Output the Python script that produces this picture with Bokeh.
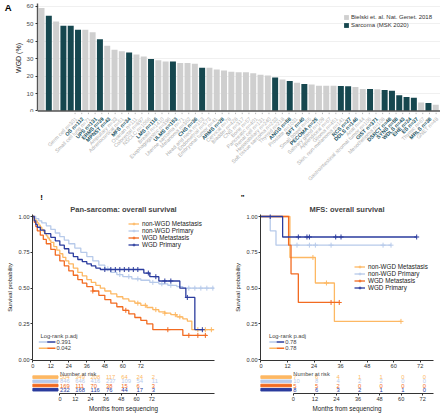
import numpy as np
from math import pi
from bokeh.plotting import figure
from bokeh.models import (ColumnDataSource, Range1d, Label, Legend, LegendItem,
                          NumeralTickFormatter, LinearAxis, FixedTicker, Span)
from bokeh.layouts import column, row
from bokeh.embed import file_html
from bokeh.resources import INLINE
from bokeh.core.properties import value

FONT = "Liberation Sans"

# ---------------- Panel A data ----------------
tumor_labels = [
    "Germ cell n=301", "OS n=112", "Small cell lung n=71", "UPS n=131", "ERMS n=39",
    "MPNST n=43", "Ampullary n=33", "Adrenocortical n=51", "MFS n=34", "Ovarian n=111",
    "Colorectal n=897", "NSCLC n=1066", "LMS n=116", "Breast n=1410", "Esophagogastric n=396",
    "ULMS n=153", "Uterine sarcoma n=71", "Melanoma n=362", "CHS n=36", "Head and neck n=153",
    "Endometrial n=573", "Embryonal tumor n=41", "ARMS n=28", "Cervical n=78", "Bladder n=428",
    "CNS n=317", "Bone n=57", "Pancreatic n=401", "Renal cell n=131", "Hepatobiliary n=240",
    "Soft tissue sarcoma n=233", "Thyroid n=218", "ANGS n=58", "Prostate n=1031", "SFT n=40",
    "Small bowel n=55", "PECOMA n=25", "Salivary gland n=109", "Appendiceal n=67", "Glioma n=451",
    "Skin, non-melanoma n=141", "RCS n=27", "DDLS n=146", "Anal n=44",
    "Gastrointestinal stromal tumor n=106", "GIST n=371", "Mesothelioma n=108", "DSRCT n=48",
    "SYNS n=58", "WDLS n=43", "EHE n=24", "ES n=37", "Thymic n=67", "MRLS n=38", "GNET n=48",
]
wgd_percent = [
    58.9, 54.5, 51.2, 48.8, 48.8, 46.5, 46.5, 45.1, 41.1, 37.3,
    35.0, 34.2, 33.4, 32.3, 31.2, 29.8, 29.0, 28.3, 28.3, 27.5,
    27.5, 27.0, 24.7, 24.7, 23.7, 23.1, 22.4, 22.2, 22.1, 21.6,
    20.8, 20.3, 19.1, 18.0, 17.2, 16.2, 15.5, 15.1, 14.5, 14.5,
    14.5, 14.3, 14.1, 13.8, 12.6, 12.6, 12.4, 12.0, 11.6, 9.0,
    8.0, 7.6, 4.9, 4.6, 3.6,
]
cohort = list("BSBSSSBBSBBBSBBSBBSBBBSBBBBBBBBBSBSBSBBBBSSBBSBSSSSSBSB")
cohort_names = {"B": "Bielski et. al. Nat. Genet. 2018", "S": "Sarcoma (MSK 2020)"}
bar_colors = {"B": "#CFCFCF", "S": "#16474F"}
text_colors = {"B": "#ADADAD", "S": "#1D5564"}
wgd_ticks = [0, 10, 20, 30, 40, 50, 60]
panel_tags = ["!", "\""]

# ---------------- Survival data ----------------
groups = ["non-WGD Metastasis", "non-WGD Primary", "WGD Metastasis", "WGD Primary"]
group_colors = ["#FDB863", "#B7CAEA", "#F26B21", "#2B3C9E"]
month_ticks = [0, 12, 24, 36, 48, 60, 72]

# Pan-sarcoma
pan_times = [
    [0, 1, 2, 3, 4, 5, 6, 7, 8, 9, 10, 11, 12, 14, 16, 18, 20, 22, 24, 27, 30, 33, 36, 39,
     42, 45, 48, 52, 56, 60, 64, 68, 72, 76, 80, 84, 88, 92, 96, 100, 103, 106],
    [0, 2, 4, 6, 9, 12, 15, 18, 21, 24, 28, 32, 36, 40, 44, 48, 52, 56, 60, 66, 72, 78, 84,
     90, 96, 100],
    [0, 1, 2, 3, 5, 7, 9, 12, 15, 18, 21, 24, 27, 30, 33, 36, 40, 44, 48, 52, 56, 60, 64, 68,
     72, 76, 80, 100],
    [0, 1, 2, 3, 5, 8, 12, 15, 18, 21, 24, 27, 30, 33, 36, 39, 42, 45, 74, 78, 84, 98, 102, 108],
]
pan_surv = [
    [1.0, 0.985, 0.97, 0.955, 0.94, 0.925, 0.91, 0.895, 0.88, 0.865, 0.85, 0.835, 0.82, 0.79,
     0.765, 0.74, 0.715, 0.69, 0.67, 0.64, 0.61, 0.585, 0.56, 0.54, 0.52, 0.50, 0.48, 0.46,
     0.44, 0.425, 0.41, 0.395, 0.38, 0.365, 0.35, 0.335, 0.325, 0.315, 0.30, 0.285, 0.27, 0.21],
    [1.0, 0.985, 0.97, 0.955, 0.935, 0.91, 0.885, 0.86, 0.835, 0.81, 0.78, 0.75, 0.72, 0.69,
     0.66, 0.635, 0.61, 0.595, 0.58, 0.565, 0.555, 0.54, 0.53, 0.52, 0.51, 0.50],
    [1.0, 0.96, 0.93, 0.90, 0.87, 0.84, 0.81, 0.77, 0.73, 0.69, 0.655, 0.62, 0.59, 0.56, 0.535,
     0.51, 0.48, 0.45, 0.42, 0.395, 0.37, 0.345, 0.32, 0.295, 0.275, 0.25, 0.21, 0.17],
    [1.0, 0.97, 0.945, 0.925, 0.905, 0.88, 0.855, 0.83, 0.80, 0.775, 0.745, 0.72, 0.70, 0.685,
     0.67, 0.655, 0.64, 0.63, 0.605, 0.58, 0.55, 0.50, 0.435, 0.21],
]
pan_end = [121, 121, 116, 113.5]
pan_censor = [
    [70, 75, 82, 88, 95, 98, 110, 115, 119],
    [50, 58, 64, 70, 80, 86, 92, 104, 108, 112, 116, 120],
    [40, 62, 90, 104, 110, 115],
    [48, 52, 55, 58, 61, 64, 67, 70, 77, 82, 88, 92, 103, 113],
]
pan_risk = [
    [504, 349, 208, 117, 64, 24, 2],
    [846, 646, 416, 237, 109, 54, 11],
    [169, 111, 70, 38, 15, 6, 3],
    [232, 168, 116, 76, 44, 17, 3],
]
pan_pvals = ["0.391", "0.042"]

# MFS
mfs_times = [[0, 13.1, 24.6, 33.2], [0, 4.2, 6.8], [0, 12.5, 13.6, 16.9], [0, 9.8]]
mfs_surv = [[1.0, 0.714, 0.536, 0.268], [1.0, 0.9, 0.8], [1.0, 0.8, 0.6, 0.4], [1.0, 0.857]]
mfs_end = [63.3, 58.8, 35.4, 70.4]
mfs_censor = [
    [23.5, 29.6, 63.3],
    [16.3, 21.9, 24.6, 31.7, 55.2, 58.8],
    [31.7, 35.4],
    [4.2, 16.9, 20.8, 21.9, 33.8, 36.2, 70.4],
]
mfs_risk = [
    [7, 6, 4, 1, 1, 0, 0],
    [10, 8, 4, 2, 2, 0, 0],
    [5, 5, 2, 0, 0, 0, 0],
    [8, 6, 3, 2, 1, 1, 0],
]
mfs_pvals = ["0.78", "0.78"]

AX = "#333333"


def style_axis(ax, size="5.6px"):
    ax.axis_line_color = AX
    ax.axis_line_width = 1
    ax.major_tick_line_color = AX
    ax.major_tick_in = 0
    ax.major_tick_out = 2
    ax.minor_tick_line_color = None
    ax.minor_tick_out = 0
    ax.minor_tick_in = 0
    ax.major_label_text_font = FONT
    ax.major_label_text_font_size = size
    ax.major_label_text_color = "#333333"
    ax.major_label_standoff = 1
    ax.axis_label_text_font = FONT
    ax.axis_label_text_font_style = "normal"
    ax.axis_label_text_color = "#222222"


# ---------------- Panel A: bars ----------------
idx = list(range(1, len(wgd_percent) + 1))
xA0, xA1 = 0.45, 55.65
A_W, A_BARS_H, A_LAB_H, A_LEFT = 440, 112, 90, 37
pA = figure(width=A_W, height=A_BARS_H, x_range=Range1d(xA0, xA1),
            y_range=Range1d(-0.86, 61.5), output_backend="svg", toolbar_location=None,
            x_axis_location=None, min_border_left=A_LEFT, min_border_right=0,
            min_border_top=3, min_border_bottom=0)
pA.outline_line_color = None
pA.xgrid.grid_line_color = None
pA.ygrid.grid_line_color = "#E6E6E6"
pA.ygrid.grid_line_width = 0.6
pA.ygrid.ticker = wgd_ticks

legend_items_A = []
for key in ["B", "S"]:
    sel = [i for i, c in enumerate(cohort) if c == key]
    src = ColumnDataSource(dict(x=[idx[i] for i in sel], top=[wgd_percent[i] for i in sel]))
    r = pA.vbar(x="x", top="top", width=0.82, source=src, fill_color=bar_colors[key],
                line_color=None)
    legend_items_A.append(LegendItem(label=cohort_names[key], renderers=[r]))

style_axis(pA.yaxis[0], "6.2px")
pA.yaxis.ticker = wgd_ticks
pA.yaxis.bounds = (0, 61.5)
pA.yaxis.axis_label = "WGD (%)"
pA.yaxis.axis_label_text_font_size = "7px"
pA.yaxis.axis_line_color = "#555555"
pA.yaxis.axis_line_width = 1.4
pA.yaxis.major_label_text_color = "#4D4D4D"
pA.yaxis.major_label_standoff = 2
pA.yaxis.axis_label_standoff = 2
pA.add_layout(Span(location=0, dimension="width", line_color="#555555", line_width=1.4))

# panel tag "A" as an outer axis label
tag_axis = LinearAxis(ticker=FixedTicker(ticks=[61]), major_label_overrides={61: "A"},
                      axis_line_color=None, major_tick_line_color=None,
                      minor_tick_line_color=None, major_tick_out=0, major_tick_in=0,
                      minor_tick_out=0, minor_tick_in=0, major_label_standoff=0,
                      major_label_text_font=FONT, major_label_text_font_size="9.5px",
                      major_label_text_font_style="bold", major_label_text_color="black")
pA.add_layout(tag_axis, "left")

legA = Legend(items=legend_items_A, location=(306, 84), orientation="vertical",
              glyph_width=6, glyph_height=6, label_height=7, label_standoff=2,
              spacing=1, padding=0, margin=0, background_fill_alpha=0,
              border_line_color=None, label_text_font=FONT, label_text_font_size="6px",
              label_text_color="#333333")
pA.add_layout(legA)

# ---------------- Panel A: rotated category labels (+ tags of panels below) ----------------
px_per_unit = (A_W - A_LEFT) / (xA1 - xA0)
xL0 = xA1 - A_W / px_per_unit
pL = figure(width=A_W, height=A_LAB_H, x_range=Range1d(xL0, xA1),
            y_range=Range1d(-A_LAB_H, 0), output_backend="svg", toolbar_location=None,
            x_axis_location=None, y_axis_location=None, min_border_left=0,
            min_border_right=0, min_border_top=0, min_border_bottom=0)
pL.outline_line_color = None
pL.grid.grid_line_color = None
pL.segment(x0=idx, y0=[0] * len(idx), x1=idx, y1=[-1.6] * len(idx), line_color="#A0A0A0",
           line_width=0.8)
for key, style in [("B", "normal"), ("S", "bold")]:
    sel = [i for i, c in enumerate(cohort) if c == key]
    pL.text(x=[idx[i] for i in sel], y=[-5.5] * len(sel), text=[tumor_labels[i] for i in sel],
            angle=pi / 4, text_align="right", text_baseline="middle", x_offset=1,
            text_color=text_colors[key], text_font=value(FONT), text_font_size="5.3px",
            text_font_style=style)
# tags of the two survival panels, placed at canvas x = 3 and 222
tag_x = [xL0 + 3 / px_per_unit, xL0 + 222 / px_per_unit]
pL.text(x=tag_x, y=[-84.5, -84.5], text=panel_tags, text_align="left",
        text_baseline="middle", text_color="black", text_font=value(FONT),
        text_font_size="8px", text_font_style="bold")


# ---------------- KM panels ----------------
def step_at(t, s, q):
    i = np.searchsorted(np.asarray(t, float), np.asarray(q, float), side="right") - 1
    return list(np.asarray(s)[i])


def km_panel(title, title_shift, times, surv, ends, censors, risk, pvals, x_end, b_left,
             b_right, leg_loc, lr_x, lr_seg):
    W, H_KM, H_RISK = 220, 168, 44
    x0 = -0.2
    p = figure(width=W, height=H_KM, x_range=Range1d(x0, x_end),
               y_range=Range1d(-0.005, 1.014), output_backend="svg", toolbar_location=None,
               min_border_left=b_left, min_border_right=b_right, min_border_top=10,
               min_border_bottom=9)
    p.outline_line_color = None
    p.grid.grid_line_color = None
    p.title.text = title
    p.title.align = "center"
    p.title.offset = title_shift
    p.title.standoff = 1
    p.title.text_font = FONT
    p.title.text_font_size = "7.5px"
    p.title.text_font_style = "bold"
    items = []
    for g, c, t, s, e, cz in zip(groups, group_colors, times, surv, ends, censors):
        xs = list(t) + [e]
        ys = list(s) + [s[-1]]
        r1 = p.step(xs, ys, mode="after", line_color=c, line_width=1.3)
        r2 = p.scatter(cz, step_at(t, s, cz), marker="cross", size=5, line_color=c,
                       line_width=1)
        items.append(LegendItem(label=g, renderers=[r1, r2]))
    style_axis(p.xaxis[0])
    style_axis(p.yaxis[0])
    p.xaxis.ticker = month_ticks
    p.yaxis.ticker = [0, 0.25, 0.5, 0.75, 1.0]
    p.yaxis.formatter = NumeralTickFormatter(format="0.00")
    p.yaxis.axis_label = "Survival probability"
    p.yaxis.axis_label_text_font_size = "5.8px"
    p.yaxis.axis_label_standoff = 3
    leg = Legend(items=items, location=leg_loc, glyph_width=11, glyph_height=7,
                 label_height=7, label_standoff=3, spacing=0, padding=0, margin=0,
                 background_fill_alpha=0, border_line_color=None, label_text_font=FONT,
                 label_text_font_size="6.3px", label_text_color="#222222")
    p.add_layout(leg)
    # log-rank annotation
    p.add_layout(Label(x=lr_x, y=0.168, text="Log-rank p.adj", text_font=FONT,
                       text_font_size="5.8px", text_baseline="middle", text_align="left"))
    pair_colors = [(group_colors[1], group_colors[3]), (group_colors[0], group_colors[2])]
    for (ca, cb), pv, yy in zip(pair_colors, pvals, [0.124, 0.08]):
        p.segment(x0=[lr_seg[0]], y0=[yy], x1=[lr_seg[1]], y1=[yy], line_color=ca,
                  line_width=1.6)
        p.segment(x0=[lr_seg[1]], y0=[yy], x1=[lr_seg[2]], y1=[yy], line_color=cb,
                  line_width=1.6)
        p.add_layout(Label(x=lr_seg[2], y=yy, x_offset=1, text=pv, text_font=FONT,
                           text_font_size="5.8px", text_baseline="middle", text_align="left"))

    # risk table
    frame_w_km = W - b_left - b_right
    frame_w_r = W - b_right
    r_start = x_end - (x_end - x0) * frame_w_r / frame_w_km
    rk = figure(width=W, height=H_RISK, x_range=Range1d(r_start, x_end),
                y_range=Range1d(0.097, 5.58), output_backend="svg", toolbar_location=None,
                y_axis_location=None, min_border_left=0, min_border_right=b_right,
                min_border_top=0, min_border_bottom=17)
    rk.outline_line_color = None
    rk.grid.grid_line_color = None
    style_axis(rk.xaxis[0])
    rk.xaxis.ticker = month_ticks
    rk.xaxis.bounds = (0, x_end)
    rk.xaxis.axis_label = "Months from sequencing"
    rk.xaxis.axis_label_text_font_size = "6.3px"
    rk.xaxis.axis_label_standoff = 1
    rows = [4, 3, 2, 1]
    tx, ty, tt, tc = [], [], [], []
    for rr, c, vals in zip(rows, group_colors, risk):
        for m, v in zip(month_ticks, vals):
            tx.append(m); ty.append(rr); tt.append(str(v)); tc.append(c)
    rk.text(x=tx, y=ty, text=tt, text_color=tc, text_font=value(FONT),
            text_font_size="5.8px", text_align="left", text_baseline="middle")
    key_gap = (x_end - x0) / frame_w_km * 2.0
    rk.hbar(y=rows, left=r_start, right=x0 - key_gap, height=0.6, color=group_colors)
    rk.add_layout(Label(x=0, y=4.82, text="Number at risk", text_font=FONT,
                        text_font_size="5.6px", text_baseline="middle", text_align="left"))
    return column(p, rk, spacing=0)


b = km_panel("Pan-sarcoma: overall survival", 0, pan_times, pan_surv, pan_end, pan_censor,
             pan_risk, pan_pvals, 121.1, 32, 6, (96, 112), 5.1, (4.0, 9.6, 15.1))
c = km_panel("MFS: overall survival", -8, mfs_times, mfs_surv, mfs_end, mfs_censor,
             mfs_risk, mfs_pvals, 78.0, 40, 7, (94, 69), 3.6, (3.8, 7.1, 10.5))

layout = column(pA, pL, row(b, c, spacing=0), spacing=0)
open("out.html", "w").write(file_html(layout, INLINE))
